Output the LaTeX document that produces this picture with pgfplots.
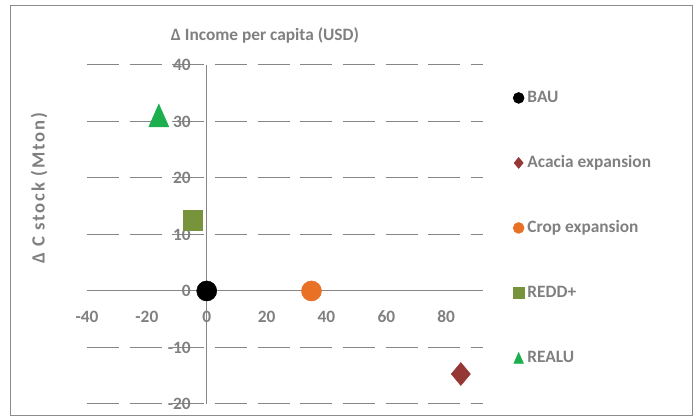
\documentclass[border=0pt]{standalone}
\usepackage{fontspec}
\setmainfont{Carlito}
\newfontfamily\ylabfont[LetterSpace=10]{Carlito}
\usepackage{pgfplots}
\pgfplotsset{compat=1.18}
\definecolor{txtgray}{RGB}{128,128,128}
\definecolor{gridgray}{RGB}{134,134,134}
\definecolor{framegray}{RGB}{140,140,140}
\definecolor{acacia}{RGB}{149,55,53}
\definecolor{crop}{RGB}{232,113,38}
\definecolor{redd}{RGB}{119,147,60}
\definecolor{realu}{RGB}{29,175,78}
\pgfdeclareplotmark{xdiamond}{%
  \pgfpathmoveto{\pgfqpoint{0pt}{\pgfplotmarksize}}%
  \pgfpathlineto{\pgfqpoint{0.83\pgfplotmarksize}{0pt}}%
  \pgfpathlineto{\pgfqpoint{0pt}{-\pgfplotmarksize}}%
  \pgfpathlineto{\pgfqpoint{-0.83\pgfplotmarksize}{0pt}}%
  \pgfpathclose\pgfusepathqfillstroke}
\pgfdeclareplotmark{xtri}{%
  \pgfpathmoveto{\pgfqpoint{0pt}{\pgfplotmarksize}}%
  \pgfpathlineto{\pgfqpoint{0.88\pgfplotmarksize}{-\pgfplotmarksize}}%
  \pgfpathlineto{\pgfqpoint{-0.88\pgfplotmarksize}{-\pgfplotmarksize}}%
  \pgfpathclose\pgfusepathqfillstroke}
\begin{document}
\begin{tikzpicture}[font=\fontsize{13pt}{15pt}\selectfont\bfseries]
\begin{axis}[
  scale only axis, width=297pt, height=254.25pt,
  xmin=-40, xmax=92.3, ymin=-20, ymax=40,
  axis lines=middle,
  axis line style={gridgray,line width=0.75pt,-},
  hide obscured x ticks=false, hide obscured y ticks=false,
  xtick={-40,-20,0,20,40,60,80},
  ytick={-20,-10,0,10,20,30,40},
  major tick length=0pt,
  ymajorgrids,
  major grid style={gridgray,line width=0.75pt,dash pattern=on 24pt off 8pt},
  /pgf/number format/assume math mode=true,
  ticklabel style={txtgray,font=\fontsize{13pt}{15pt}\selectfont\bfseries},
  xticklabel style={yshift=-11.4pt},
  yticklabel style={xshift=-8.5pt},
  clip=false,
  legend cell align=left,
  legend style={at={(1.0655,0.935)},anchor=north west,draw=none,fill=none,
    row sep=36.75pt,column sep=2.5pt,
    nodes={inner sep=0pt,text height=9.5pt,text depth=2.5pt,txtgray,
      font=\fontsize{13pt}{15pt}\selectfont\bfseries}},
  legend image code/.code={\draw[#1,mark size=4.1pt] plot coordinates {(0pt,0pt)};},
]
\addplot[only marks,mark=*,mark size=7.5pt,draw=black,fill=black] coordinates {(0,0)};
\addlegendentry{BAU}
\addplot[only marks,mark=xdiamond,mark size=8.6pt,draw=acacia,fill=acacia] coordinates {(84.9,-14.7)};
\addlegendentry{Acacia expansion}
\addplot[only marks,mark=*,mark size=7.5pt,draw=crop,fill=crop] coordinates {(35,0)};
\addlegendentry{Crop expansion}
\addplot[only marks,mark=square*,mark size=7.4pt,draw=redd,fill=redd] coordinates {(-4.7,12.5)};
\addlegendentry{REDD+}
\addplot[only marks,mark=xtri,mark size=8.5pt,draw=realu,fill=realu] coordinates {(-16,31.06)};
\addlegendentry{REALU}
\coordinate (bbsw) at (rel axis cs:-0.2197,-0.0442);
\coordinate (bbne) at (rel axis cs:1.5455,1.1917);
\coordinate (frsw) at (rel axis cs:-0.1944,-0.0354);
\coordinate (frne) at (rel axis cs:1.5303,1.1740);
\coordinate (ttl) at (rel axis cs:0.4495,1.0885);
\coordinate (ylb) at (rel axis cs:-0.1212,0.637);
\end{axis}
\draw[framegray,line width=0.75pt] (frsw) rectangle (frne);
\node[txtgray] at (ttl) {Δ Income per capita (USD)};
\node[txtgray,rotate=90,font=\fontsize{14pt}{16pt}\ylabfont\bfseries] at (ylb) {Δ C stock (Mton)};
\path[use as bounding box] (bbsw) rectangle (bbne);
\end{tikzpicture}
\end{document}
